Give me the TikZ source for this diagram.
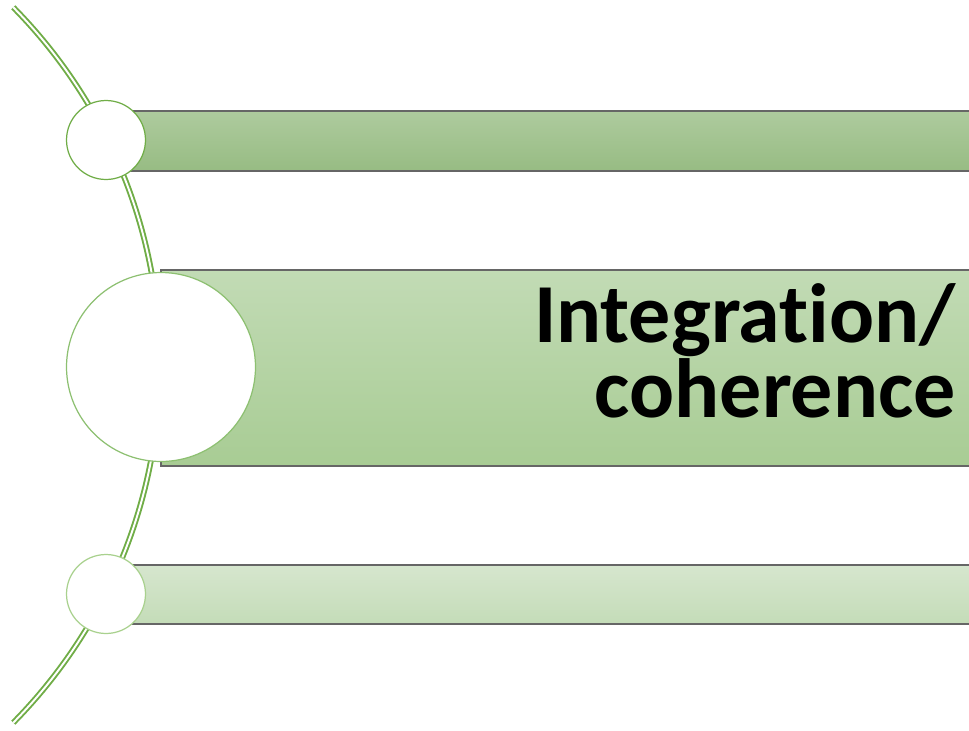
\documentclass[tikz,border=0pt]{standalone}
\usepackage{fontspec}
\setmainfont{Carlito}[Ligatures=NoCommon]
\usepackage{xcolor}
\usetikzlibrary{calc}
\definecolor{leafgreen}{HTML}{70AD47}
\definecolor{midgreen}{HTML}{8DC071}
\definecolor{palegreen}{HTML}{A9D18E}
\tikzset{
	bar/.style={
			draw=black!60, line width=1pt, inner sep=0pt, anchor=north west,
			minimum width=17cm
		},
	ring/.style={
			circle, fill=white, line width=0.7pt, inner sep=0pt
		}
}

\begin{document}
\begin{tikzpicture}[x=0.02cm, y=-0.02cm]
			\useasboundingbox (0,0) rectangle (969,730);
			\clip (0,0) rectangle (969,730);

			% Draw the arc
			\draw[leafgreen, line width=1.1pt, double=white, double distance=1.1pt]
			($(-349.4,365)+(-44.6:509.4 and -509.4)$) arc[start angle=-44.6, end angle=44.6, x radius=509.4, y radius=-509.4];

			% Draw the bars
			\node[bar, top color={rgb,255:red,174;green,203;blue,158}, bottom color={rgb,255:red,151;green,188;blue,131}, minimum height=1.2cm] (barTop) at (130,110) {};
			\node[bar, top color={rgb,255:red,194;green,219;blue,181}, bottom color={rgb,255:red,168;green,204;blue,148}, minimum height=3.92cm] (barMid) at (160,269) {};
			\node[bar, top color={rgb,255:red,214;green,230;blue,206}, bottom color={rgb,255:red,196;green,220;blue,184}, minimum height=1.18cm] (barLow) at (130,564) {};

			% Draw the circles
			\node[ring, draw=leafgreen, minimum size=1.58cm] (dotTop) at (106,140) {};
			\node[ring, draw=midgreen, minimum size=3.78cm] (dotMid) at (161,367) {};
			\node[ring, draw=palegreen, minimum size=1.58cm] (dotLow) at (106,594) {};

			% Label the middle bar
			\node[anchor=base east, align=right, inner sep=0pt, font=\fontsize{47.8}{39.7}\selectfont\bfseries] (midText) at (956,417) {Integration/\\coherence};
		\end{tikzpicture}
\end{document}
